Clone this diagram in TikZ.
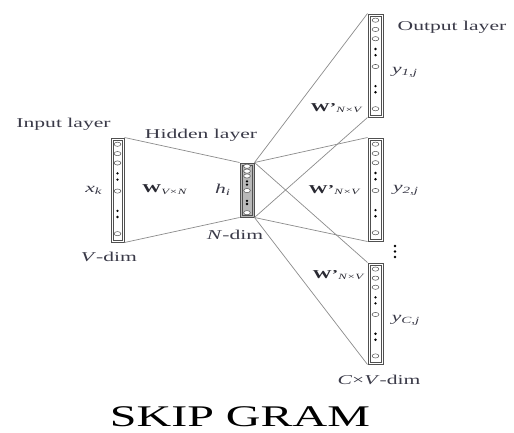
\documentclass[tikz,border=0pt]{standalone}
\usepackage{fontspec}
\setmainfont{Liberation Serif}
\usetikzlibrary{calc}
\definecolor{labelc}{HTML}{3A3A48}
\definecolor{barc}{HTML}{505050}
\definecolor{wirec}{HTML}{8C8C8C}
% horizontally widened lettering
\newcommand{\stretchx}[1]{\scalebox{1.6}[1]{#1}}
\begin{document}
\begin{tikzpicture}[x=1pt,y=-1pt,
  lbl/.style={font=\fontsize{13.5}{15}\selectfont, text=labelc, inner sep=0},
  wlbl/.style={font=\fontsize{12}{14}\selectfont, text=labelc!70!black, inner sep=0},
  wire/.style={draw=wirec, line width=0.7pt},
  % a layer drawn as a double-framed bar holding unit circles and ellipsis dots
  layerbar/.style={draw=barc, line width=1pt, inner sep=0, fill=#1,
    path picture={
      \coordinate (pt) at (path picture bounding box.north);
      \coordinate (pb) at (path picture bounding box.south);
      \draw[barc, line width=0.5pt]
        ($(path picture bounding box.north west)+(2.2,2.2)$) rectangle
        ($(path picture bounding box.south east)+(-2.2,-2.2)$);
      \foreach \f in {0.06,0.15,0.24,0.51,0.92}
        \draw[barc, fill=white, line width=0.5pt] ($(pt)!\f!(pb)$) ellipse (3.4 and 2.1);
      \foreach \f in {0.34,0.40,0.70,0.76}
        \fill[black] ($(pt)!\f!(pb)$) circle (1.3);
    }},
  layerbar/.default=white
]
\useasboundingbox[fill=white] (0,0) rectangle (514,432);

% layers
\node[layerbar, minimum width=13, minimum height=104] (in) at (117.5,190) {};
\node[layerbar=gray!55, minimum width=14, minimum height=54] (hid) at (247,190) {};
\node[layerbar, minimum width=15, minimum height=103] (o1) at (375.5,65.5) {};
\node[layerbar, minimum width=15, minimum height=103] (o2) at (375.5,189.5) {};
\node[layerbar, minimum width=15, minimum height=101] (o3) at (375.5,313.5) {};

% connections
\draw[wire] (in.north east) -- (hid.north west);
\draw[wire] (in.south east) -- (hid.south west);
\foreach \o in {o1,o2,o3}{
  \draw[wire] (hid.north east) -- (\o.north west);
  \draw[wire] (hid.south east) -- (\o.south west);
}

% labels
\node[lbl] (tin) at (63.5,124) {\stretchx{Input layer}};
\node[lbl] (thid) at (201,135) {\stretchx{Hidden layer}};
\node[lbl] (tout) at (452,27) {\stretchx{Output layer}};
\node[lbl] (xk) at (94,190) {\stretchx{\textit{x}\textsubscript{\textit{k}}}};
\node[lbl] (hi) at (223,190) {\stretchx{\textit{h}\textsubscript{\textit{i}}}};
\node[lbl] (vdim) at (109,257) {\stretchx{\textit{V}-dim}};
\node[lbl] (ndim) at (235,235) {\stretchx{\textit{N}-dim}};
\node[lbl] (cvdim) at (379,380) {\stretchx{\textit{C}×\textit{V}-dim}};
\node[lbl] (y1) at (405,72) {\stretchx{\textit{y}\textsubscript{\textit{1,j}}}};
\node[lbl] (y2) at (406,190) {\stretchx{\textit{y}\textsubscript{\textit{2,j}}}};
\node[lbl] (yc) at (406,320) {\stretchx{\textit{y}\textsubscript{\textit{C,j}}}};
\node[wlbl] (w) at (165,190) {\stretchx{\textbf{W}\textsubscript{\textit{V×N}}}};
\node[wlbl] (w1) at (337,108) {\stretchx{\textbf{W}\textbf{'}\textsubscript{\textit{N×V}}}};
\node[wlbl] (w2) at (335,190) {\stretchx{\textbf{W}\textbf{'}\textsubscript{\textit{N×V}}}};
\node[wlbl] (w3) at (339,275) {\stretchx{\textbf{W}\textbf{'}\textsubscript{\textit{N×V}}}};
\foreach \d in {246,251.5,257} \fill[black] (395,\d) circle (1.3);

\node[font=\fontsize{30}{34}\selectfont, inner sep=0, anchor=base] (title) at (240,426) {\stretchx{SKIP GRAM}};
\end{tikzpicture}
\end{document}
